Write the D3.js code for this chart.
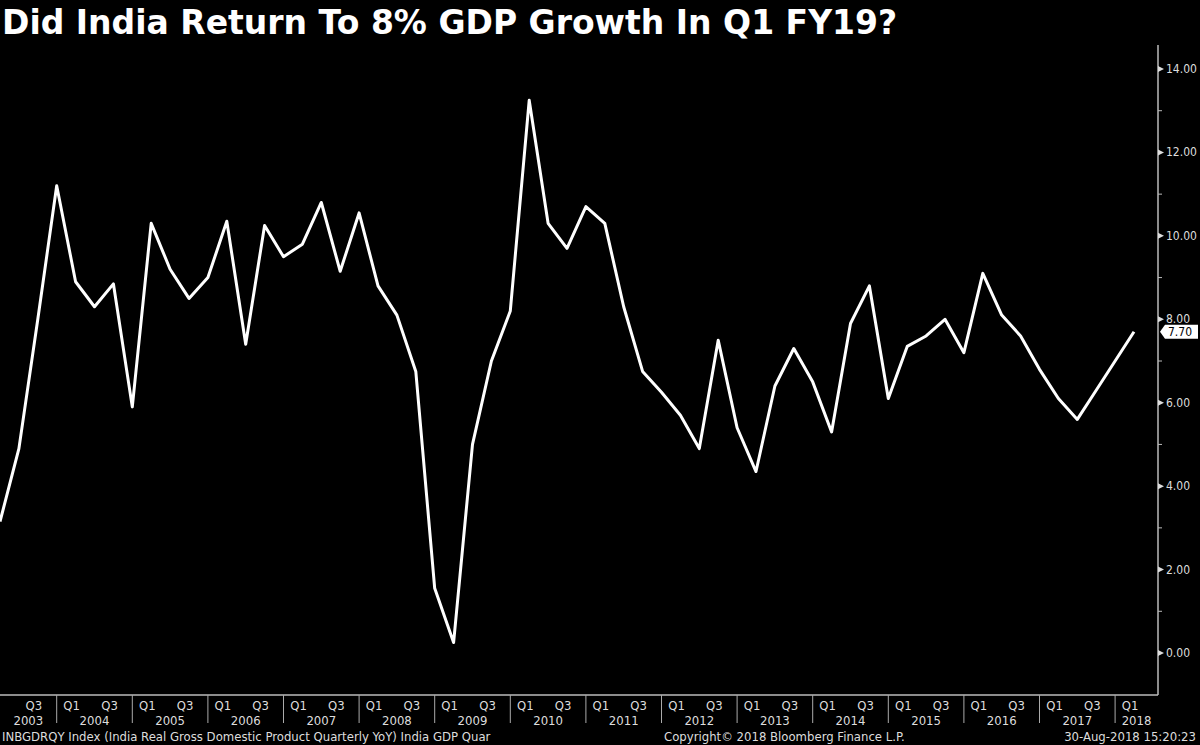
<!DOCTYPE html>
<html><head><meta charset="utf-8">
<script src="https://cdn.jsdelivr.net/npm/d3@7"></script>
<style>
body{margin:0;background:#000}
text{font-family:"Liberation Sans Narrow","DejaVu Sans Condensed",sans-serif;fill:#ddd}
</style></head>
<body><div id="chart"></div>
<script>
// quarterly YoY real GDP growth, 2003 Q2 .. 2018 Q2
const startYear = 2003, startQ = 2
const gdp = [3.15,4.9,8.0,11.2,8.9,8.3,8.85,5.9,10.3,9.2,8.5,9.0,10.35,7.4,10.25,9.5,9.8,10.8,9.15,10.55,
  8.8,8.1,6.75,1.55,0.25,5.0,7.0,8.2,13.25,10.3,9.7,10.7,10.3,8.3,6.75,6.25,5.7,4.9,7.5,5.4,
  4.35,6.4,7.3,6.5,5.3,7.9,8.8,6.1,7.35,7.6,8.0,7.2,9.1,8.1,7.6,6.8,6.1,5.6,6.3,7.0,7.7]
const years = d3.range(2003, 2019)
const yTicks = [0,2,4,6,8,10,12,14]
const lastLabel = "7.70"

const W = 1200, H = 745
const svg = d3.select('#chart').append('svg').attr('width', W).attr('height', H)
svg.append('rect').attr('width', W).attr('height', H).attr('fill', '#000')

const axisX = 1158, bottom = 695
const x = d3.scaleLinear().domain([0, gdp.length - 1]).range([0, 1134])
const y = d3.scaleLinear().domain([0, 14]).range([653, 69])
const qIndex = (yr, q) => (yr - startYear) * 4 + (q - startQ)

svg.append('text').attr('x', 2).attr('y', 34).text('Did India Return To 8% GDP Growth In Q1 FY19?')
  .style('font-family', '"DejaVu Sans",Verdana,sans-serif').style('font-weight', 'bold')
  .style('font-size', '33px').style('fill', '#fff')

// axes frame
svg.append('line').attr('x1', axisX).attr('x2', axisX).attr('y1', 45).attr('y2', bottom)
  .attr('stroke', '#bbb').attr('stroke-width', 1.5)
svg.append('line').attr('x1', 0).attr('x2', axisX).attr('y1', bottom).attr('y2', bottom)
  .attr('stroke', '#bbb').attr('stroke-width', 1.5)

// y ticks
d3.range(1, 14, 2).forEach(v => {
  svg.append('line').attr('x1', axisX).attr('x2', axisX + 4).attr('y1', y(v)).attr('y2', y(v)).attr('stroke', '#bbb')
})
yTicks.forEach(v => {
  svg.append('path').attr('d', `M${axisX},${y(v) - 3}L${axisX + 6},${y(v)}L${axisX},${y(v) + 3}Z`).attr('fill', '#ddd')
  svg.append('text').attr('x', axisX + 8).attr('y', y(v) + 4).text(v.toFixed(2)).style('font-size', '12px')
})

// x axis: year separators and labels
years.forEach(yr => {
  const i0 = qIndex(yr, 1)
  const xs = x(Math.max(i0, 0))
  if (yr > startYear) {
    svg.append('line').attr('x1', xs).attr('x2', xs).attr('y1', bottom).attr('y2', 723).attr('stroke', '#aaa')
  }
  const xe = Math.min(x(i0 + 4), axisX)
  const xStart = yr === startYear ? 0 : xs
  svg.append('text').attr('x', (xStart + xe) / 2).attr('y', 725).attr('text-anchor', 'middle')
    .text(yr).style('font-size', '13px')
  ;[1, 3].forEach(q => {
    const i = qIndex(yr, q)
    if (i < 0 || i > gdp.length - 1) return
    svg.append('text').attr('x', x(i) + 15).attr('y', 710).attr('text-anchor', 'middle')
      .text('Q' + q).style('font-size', '13px')
  })
})

// series
svg.append('path').datum(gdp)
  .attr('d', d3.line().x((d, i) => x(i)).y(d => y(d)))
  .attr('fill', 'none').attr('stroke', '#fff').attr('stroke-width', 3).attr('stroke-linejoin', 'round')

// last value tag
const ly = y(gdp[gdp.length - 1])
svg.append('path').attr('d', `M${axisX + 2},${ly}L${axisX + 7},${ly - 7}H${axisX + 40}V${ly + 7}H${axisX + 7}Z`)
  .attr('fill', '#fff')
svg.append('text').attr('x', axisX + 10).attr('y', ly + 4).text(lastLabel).style('font-size', '12px').style('fill', '#000')

// footer
svg.append('text').attr('x', 2).attr('y', 741).text('INBGDRQY Index (India Real Gross Domestic Product Quarterly YoY) India GDP  Quar').style('font-size', '13px')
svg.append('text').attr('x', 664).attr('y', 741).text('Copyright\u00a9 2018 Bloomberg Finance L.P.').style('font-size', '13px')
svg.append('text').attr('x', 1196).attr('y', 741).attr('text-anchor', 'end').text('30-Aug-2018 15:20:23').style('font-size', '13px')
</script></body></html>
